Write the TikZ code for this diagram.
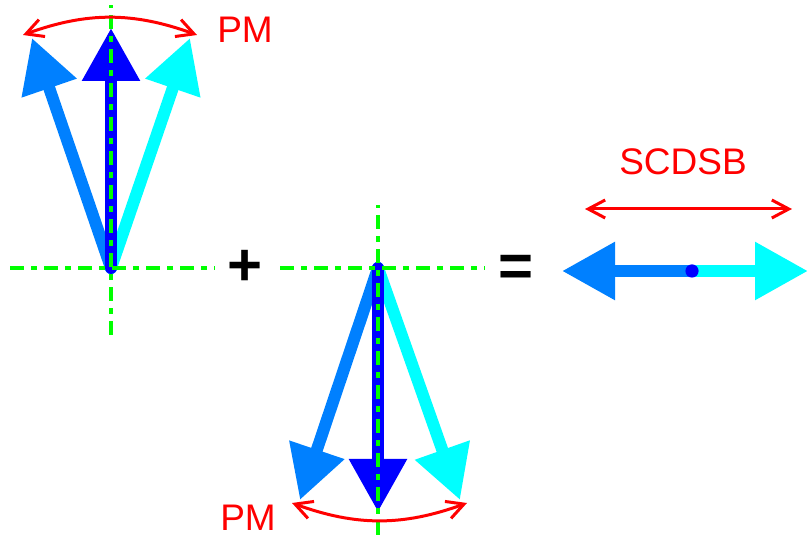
\documentclass[tikz,border=0pt]{standalone}
\usepackage{fontspec}
\setsansfont{Liberation Sans}
\usetikzlibrary{arrows.meta,positioning}
\definecolor{azure}{HTML}{0080FF}
\definecolor{aqua}{HTML}{00FFFF}
\definecolor{lime}{HTML}{00FF00}

\begin{document}
\begin{tikzpicture}[
    x=0.5pt, y=0.5pt,
    vec/.style={line width=6pt, color=#1, line cap=round,
                -{Triangle[length=26.5pt, width=27.5pt]}},
    axis/.style={draw=lime, line width=1.7pt,
                 dash pattern=on 7pt off 3.5pt on 3pt off 3.5pt},
    swing/.style={draw=red, line width=1.5pt,
                  {Straight Barb[length=8.5pt, width=9pt]}-{Straight Barb[length=8.5pt, width=9pt]}},
    lbl/.style={font=\fontsize{18.5}{20}\selectfont\sffamily, text=red},
    op/.style={font=\fontsize{30}{30}\selectfont\sffamily\bfseries},
  ]
  \useasboundingbox (0,0) rectangle (810,541);

  % upper fan
  \coordinate (oA) at (111,273);
  \coordinate (upL) at (32,503);
  \coordinate (upM) at (111,513);
  \coordinate (upR) at (190,503);
  \draw[vec=azure] (oA) -- (upL);
  \draw[vec=aqua] (oA) -- (upR);
  \draw[vec=blue] (oA) -- (upM);
  \draw[axis] (10,273) -- (215,273);
  \draw[axis] (111,206) -- (111,536);
  \coordinate (swA1) at (23,506);
  \coordinate (swA2) at (197,506);
  \draw[swing] (swA1) to[bend left=20] (swA2);
  \node[lbl] (pmA) at (245,511) {PM};

  \node[op] (plus) at (245,273) {+};

  % lower fan
  \coordinate (oB) at (378,273);
  \coordinate (dnL) at (300,41);
  \coordinate (dnM) at (378,29);
  \coordinate (dnR) at (460,41);
  \draw[vec=azure] (oB) -- (dnL);
  \draw[vec=aqua] (oB) -- (dnR);
  \draw[vec=blue] (oB) -- (dnM);
  \draw[axis] (280,273) -- (485,273);
  \draw[axis] (378,6) -- (378,336);
  \coordinate (swB1) at (292,38);
  \coordinate (swB2) at (467,38);
  \draw[swing] (swB1) to[bend right=20] (swB2);
  \node[lbl] (pmB) at (248,23) {PM};

  \node[op] (eq) at (516,270) {=};

  % result
  \coordinate (mid) at (692,270);
  \coordinate (resL) at (562,270);
  \coordinate (resR) at (808,270);
  \draw[vec=azure] (mid) -- (resL);
  \draw[vec=aqua] (mid) -- (resR);
  \node[circle, fill=blue, inner sep=0pt, minimum size=6.6pt] (dot) at (mid) {};
  \coordinate (sbL) at (585,332);
  \coordinate (sbR) at (792,332);
  \draw[swing] (sbL) -- (sbR);
  \node[lbl] (scdsb) at (683,379) {SCDSB};
\end{tikzpicture}
\end{document}
